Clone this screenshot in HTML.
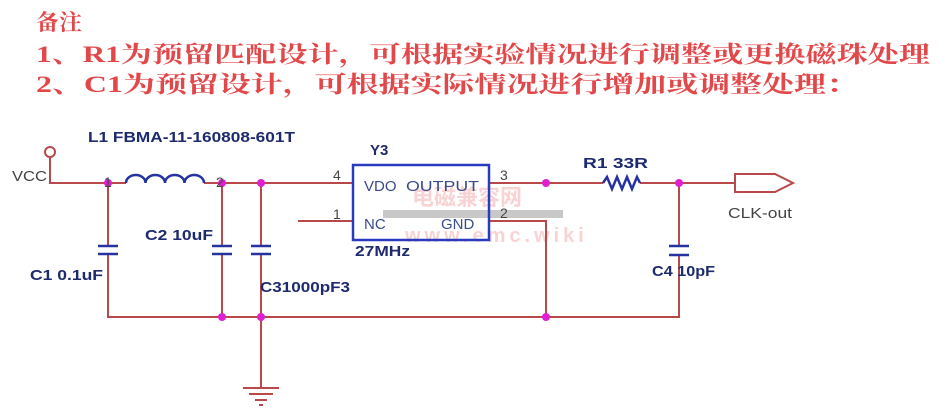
<!DOCTYPE html>
<html><head><meta charset="utf-8"><style>
html,body{margin:0;padding:0;background:#fff;width:947px;height:417px;overflow:hidden}
svg{display:block}
.t{font-family:"Liberation Serif","Noto Serif CJK SC",serif;fill:#e2474a;font-weight:bold}
.l{font-family:"Liberation Sans",sans-serif;font-size:15px;font-weight:bold;fill:#1d2a6e}
.w{stroke:#b8484a;stroke-width:2;fill:none}
.c{stroke:#2533a0;stroke-width:2.5;fill:none}
.d{fill:#e020d0}
</style></head><body>
<svg width="947" height="417" viewBox="0 0 947 417">
<text class="t" x="36" y="30" font-size="22" textLength="46" lengthAdjust="spacingAndGlyphs">备注</text>
<text class="t" x="36" y="62" font-size="23" textLength="894" lengthAdjust="spacingAndGlyphs">1、R1为预留匹配设计，可根据实验情况进行调整或更换磁珠处理</text>
<text class="t" x="36" y="92" font-size="23" textLength="822" lengthAdjust="spacingAndGlyphs">2、C1为预留设计，可根据实际情况进行增加或调整处理：</text>

<!-- watermark -->
<rect x="383" y="210" width="180" height="8" fill="#c8c8c8"/>
<text x="412" y="205" font-family="Liberation Sans,'Noto Sans CJK SC',sans-serif" font-size="22" font-weight="bold" fill="#f3a8a8" opacity="0.5">电磁兼容网</text>
<text x="405" y="242" font-family="Liberation Sans,sans-serif" font-size="20" font-weight="bold" fill="#f3a8a8" opacity="0.5" letter-spacing="4">www.emc.wiki</text>

<!-- wires -->
<path class="w" d="M50 158 V183 H126 M204 183 H353 M298 221 H353"/>
<path class="w" d="M108 183 V246 M108 254 V317 H679 V255 M679 246 V183"/>
<path class="w" d="M222 183 V246 M222 254 V317 M261 183 V246 M261 254 V388"/>
<path class="w" d="M489 183 H603 M640 183 H735 M489 221 H546 V317"/>
<circle cx="50" cy="152" r="5" class="w"/>
<path class="w" d="M735 174 H775 L793 183 L775 192 H735 Z"/>
<path class="w" d="M243 388 H279 M249 394 H273 M255 400 H267 M259 405 H263"/>
<path class="c" d="M126 183 a9.75 8 0 0 1 19.5 0 a9.75 8 0 0 1 19.5 0 a9.75 8 0 0 1 19.5 0 a9.75 8 0 0 1 19.5 0"/>
<path class="c" d="M603 183 l4 -6 l5 12 l5 -12 l5 12 l5 -12 l5 12 l5 -12 l3 6"/>
<path class="c" d="M98 246 H118 M98 254 H118 M212 246 H232 M212 254 H232 M251 246 H271 M251 254 H271 M669 246 H689 M669 255 H689"/>
<rect x="353" y="165" width="136" height="75" fill="none" stroke="#2a3ac0" stroke-width="2.5"/>
<g class="d"><circle cx="108" cy="183" r="4"/><circle cx="222" cy="183" r="4"/><circle cx="261" cy="183" r="4"/><circle cx="546" cy="183" r="4"/><circle cx="679" cy="183" r="4"/><circle cx="222" cy="317" r="4"/><circle cx="261" cy="317" r="4"/><circle cx="546" cy="317" r="4"/></g>

<g font-family="Liberation Sans,sans-serif" font-size="15" fill="#3a4a8a">
<text x="12" y="181" fill="#444" textLength="35" lengthAdjust="spacingAndGlyphs">VCC</text>
<text x="104" y="187" font-size="14" fill="#444">1</text>
<text x="216" y="187" font-size="14" fill="#444">2</text>
<text x="333" y="180" font-size="14" fill="#444">4</text>
<text x="333" y="219" font-size="14" fill="#444">1</text>
<text x="500" y="180" font-size="14" fill="#444">3</text>
<text x="500" y="218" font-size="14" fill="#444">2</text>
<text x="364" y="191">VDO</text>
<text x="406" y="191" textLength="73" lengthAdjust="spacingAndGlyphs">OUTPUT</text>
<text x="364" y="229">NC</text>
<text x="441" y="229">GND</text>
<text x="728" y="218" fill="#444" textLength="64" lengthAdjust="spacingAndGlyphs">CLK-out</text>
</g>
<text class="l" x="88" y="142" textLength="207" lengthAdjust="spacingAndGlyphs">L1  FBMA-11-160808-601T</text>
<text class="l" x="370" y="155">Y3</text>
<text class="l" x="145" y="240" textLength="68" lengthAdjust="spacingAndGlyphs">C2  10uF</text>
<text class="l" x="30" y="280" textLength="73" lengthAdjust="spacingAndGlyphs">C1  0.1uF</text>
<text class="l" x="260" y="292" textLength="90" lengthAdjust="spacingAndGlyphs">C31000pF3</text>
<text class="l" x="355" y="256" textLength="55" lengthAdjust="spacingAndGlyphs">27MHz</text>
<text class="l" x="583" y="168" textLength="65" lengthAdjust="spacingAndGlyphs">R1   33R</text>
<text class="l" x="652" y="276" textLength="63" lengthAdjust="spacingAndGlyphs">C4 10pF</text>
</svg>
</body></html>
